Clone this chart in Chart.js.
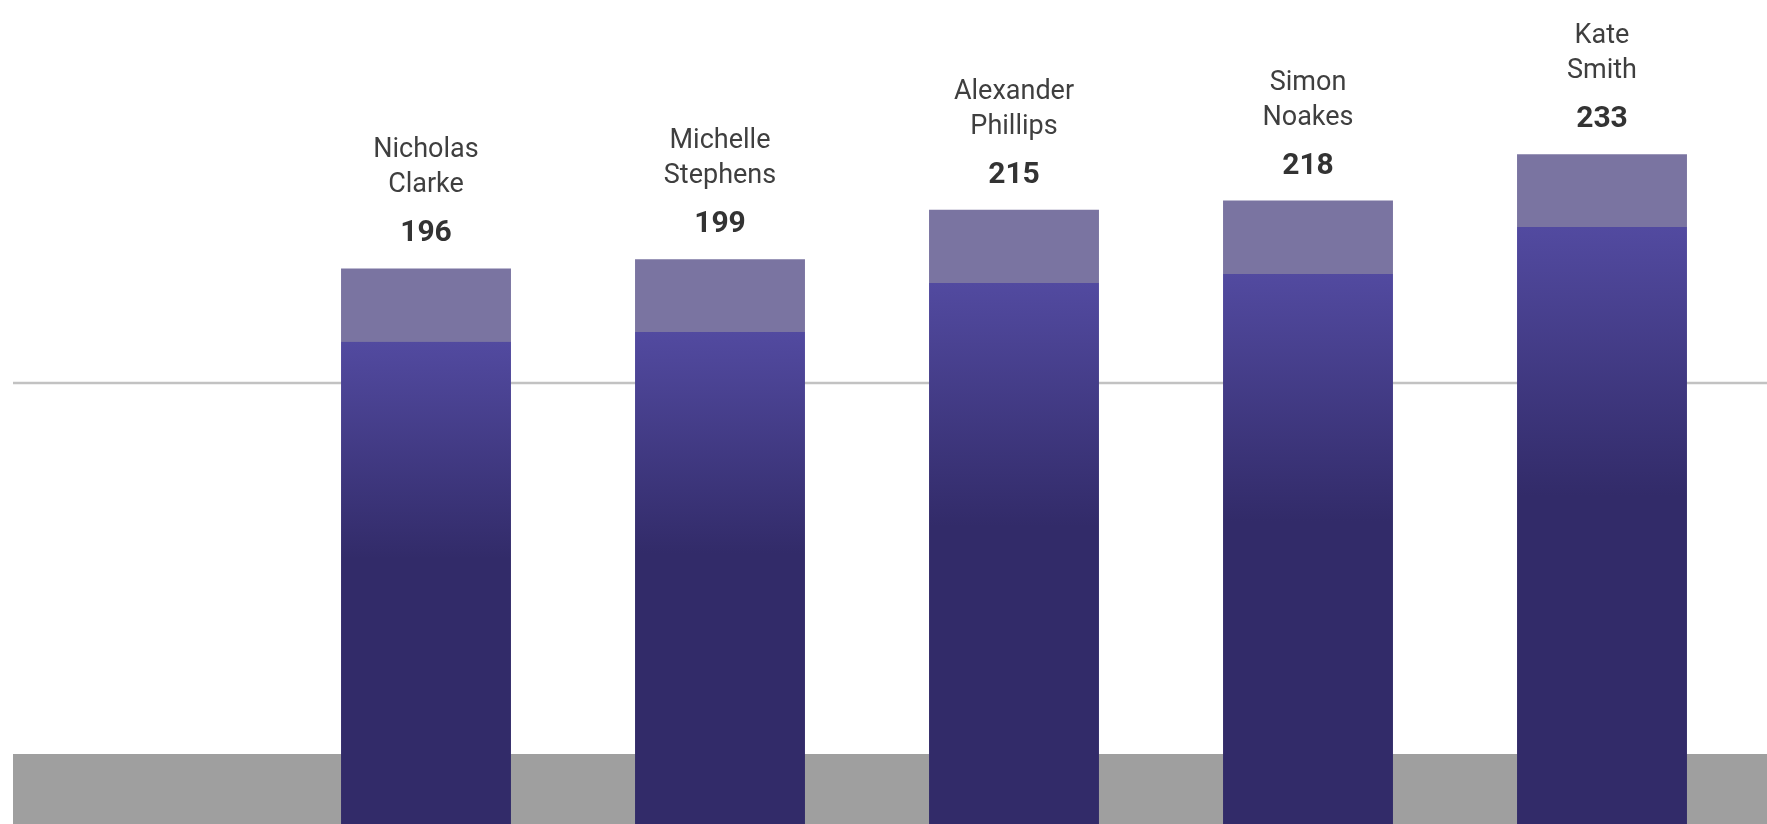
<!DOCTYPE html>
<html>
<head>
<meta charset="utf-8">
<script src="https://cdn.jsdelivr.net/npm/chart.js@4"></script>
<style>
  html, body { margin: 0; padding: 0; background: #ffffff; overflow: hidden; }
  #wrap { width: 1767px; height: 824px; position: relative; }
</style>
</head>
<body>
<div id="wrap"><canvas id="c"></canvas></div>
<script>
// ---- data ----
const firstNames = ["Nicholas", "Michelle", "Alexander", "Simon", "Kate"];
const lastNames  = ["Clarke", "Stephens", "Phillips", "Noakes", "Smith"];
const values     = [196, 199, 215, 218, 233];
const gridTicks  = [159];
const yMin = 16;
const yMax = 283;

const categories = firstNames.map((f, i) => f + " " + lastNames[i]);

function barFill(ctx) {
  const chart = ctx.chart;
  const ys = chart.scales && chart.scales.y;
  const area = chart.chartArea;
  if (!ys || !area || ctx.raw === undefined) return '#463f8a';
  const top = ys.getPixelForValue(ctx.raw);
  const bottom = area.bottom;
  const span = Math.max(bottom - top, 1);
  const cap = 73;
  const t1 = Math.min(cap / span, 0.99);
  const t2 = Math.min(t1 + 0.45 * (1 - t1), 1);
  const g = chart.ctx.createLinearGradient(0, top, 0, bottom);
  g.addColorStop(0, '#7a74a1');
  g.addColorStop(t1, '#7a74a1');
  g.addColorStop(Math.min(t1 + 0.0001, 1), '#524aa0');
  g.addColorStop(t2, '#322b69');
  g.addColorStop(1, '#322b69');
  return g;
}

const backdrop = {
  id: 'backdrop',
  beforeDatasetsDraw(chart) {
    const c = chart.ctx;
    const area = chart.chartArea;
    const ys = chart.scales.y;
    const W = chart.width;
    c.save();
    // gray floor band
    c.fillStyle = '#9f9f9f';
    c.fillRect(13, area.bottom - 70, W - 13, 70);
    // horizontal grid line(s)
    c.strokeStyle = '#c2c2c2';
    c.lineWidth = 2.5;
    gridTicks.forEach(v => {
      const y = Math.round(ys.getPixelForValue(v));
      c.beginPath();
      c.moveTo(13, y);
      c.lineTo(W, y);
      c.stroke();
    });
    c.restore();
  }
};

const topLabels = {
  id: 'topLabels',
  afterDatasetsDraw(chart) {
    const c = chart.ctx;
    const meta = chart.getDatasetMeta(0);
    c.save();
    c.textAlign = 'center';
    c.textBaseline = 'alphabetic';
    meta.data.forEach((el, i) => {
      const x = el.x;
      const top = el.y;
      c.fillStyle = '#333333';
      c.font = 'bold 30px Roboto, "DejaVu Sans", sans-serif';
      c.fillText(String(values[i]), x, top - 27);
      c.fillStyle = '#3f3f3f';
      c.font = '27px Roboto, "DejaVu Sans", sans-serif';
      c.fillText(lastNames[i], x, top - 76);
      c.fillText(firstNames[i], x, top - 111);
    });
    c.restore();
  }
};

new Chart(document.getElementById('c'), {
  type: 'bar',
  data: {
    labels: categories,
    datasets: [{
      data: values,
      backgroundColor: barFill,
      borderWidth: 0,
      barPercentage: 0.578,
      categoryPercentage: 1.0
    }]
  },
  options: {
    responsive: true,
    maintainAspectRatio: false,
    animation: false,
    layout: { padding: { left: 279, right: 18, top: 0, bottom: 0 } },
    plugins: {
      legend: { display: false },
      tooltip: { enabled: false },
      title: { display: false }
    },
    scales: {
      x: { display: false, grid: { display: false } },
      y: { display: false, min: yMin, max: yMax, grid: { display: false } }
    }
  },
  plugins: [backdrop, topLabels]
});
</script>
</body>
</html>
